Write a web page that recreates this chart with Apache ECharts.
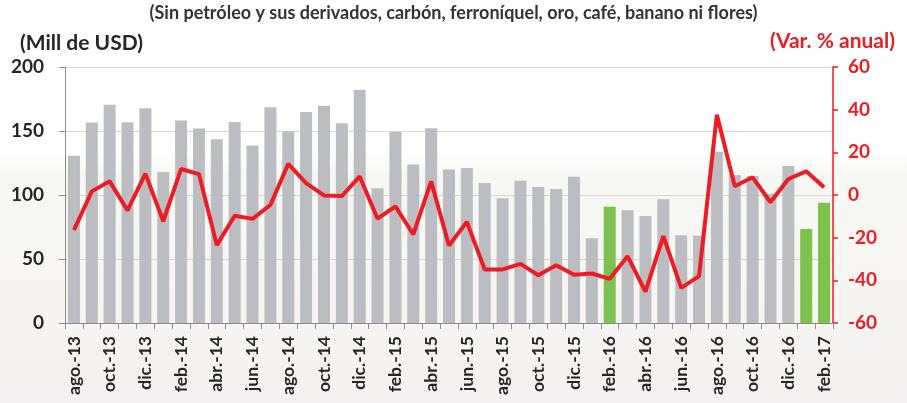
<!DOCTYPE html>
<html>
<head>
<meta charset="utf-8">
<script src="https://cdn.jsdelivr.net/npm/echarts@6/dist/echarts.min.js"></script>
<style>
  html, body { margin: 0; padding: 0; }
  body {
    width: 907px; height: 403px; overflow: hidden;
    background: linear-gradient(to bottom, #ffffff 0px, #ffffff 150px, #f7f7f4 175px, #f6f5f2 320px, #f5f0f1 403px);
  }
  #chart { width: 907px; height: 403px; }
</style>
</head>
<body>
<div id="chart"></div>
<script>
const months = [
  "ago.-13", "sep.-13", "oct.-13", "nov.-13", "dic.-13",
  "ene.-14", "feb.-14", "mar.-14", "abr.-14", "may.-14", "jun.-14", "jul.-14", "ago.-14", "sep.-14", "oct.-14", "nov.-14", "dic.-14",
  "ene.-15", "feb.-15", "mar.-15", "abr.-15", "may.-15", "jun.-15", "jul.-15", "ago.-15", "sep.-15", "oct.-15", "nov.-15", "dic.-15",
  "ene.-16", "feb.-16", "mar.-16", "abr.-16", "may.-16", "jun.-16", "jul.-16", "ago.-16", "sep.-16", "oct.-16", "nov.-16", "dic.-16",
  "ene.-17", "feb.-17"
];

// exportaciones, millones de USD
const exportValues = [
  130.6, 156.6, 170.6, 156.9, 167.8,
  117.9, 158.2, 151.9, 143.6, 157.1, 138.7, 168.6, 149.9, 164.9, 169.8, 156.1, 182.3,
  105.2, 149.4, 123.9, 152.2, 120.0, 121.0, 109.4, 97.4, 111.2, 106.2, 104.7, 114.3,
  66.2, 90.9, 88.1, 83.6, 96.6, 68.6, 68.1, 133.8, 115.6, 114.8, 100.8, 122.6,
  73.5, 94.0
];

// variación % anual
const annualChange = [
  -16.5, 1.7, 6.4, -7.2, 10.0,
  -12.3, 12.2, 9.8, -23.5, -9.7, -11.2, -4.7, 14.6, 5.6, -0.2, -0.5, 8.7,
  -11.1, -5.3, -18.5, 6.4, -23.7, -12.6, -34.9, -34.9, -32.3, -37.6, -32.9, -37.4,
  -36.8, -39.3, -28.7, -45.3, -19.3, -43.5, -38.0, 37.6, 4.1, 8.3, -3.4, 7.5,
  11.1, 3.6
];

// meses resaltados en verde
const highlighted = ["feb.-16", "ene.-17", "feb.-17"];

const leftTicks = [0, 50, 100, 150, 200];
const rightTicks = [-60, -40, -20, 0, 20, 40, 60];

const grey = "#bcbdc0";
const green = "#7dc14f";
const red = "#ed1c24";
const dark = "#262626";
const font = "Lato";

const chart = echarts.init(document.getElementById("chart"));

chart.setOption({
  animation: false,
  textStyle: { fontFamily: font },
  graphic: [
    {
      type: "text", left: "center", top: 4,
      style: {
        text: "(Sin petróleo y sus derivados, carbón, ferroníquel, oro, café, banano ni flores)",
        font: "bold 18px " + font, fill: "#333333"
      }
    },
    {
      type: "text", left: 20, top: 33,
      style: { text: "(Mill de USD)", font: "bold 21px " + font, fill: dark }
    },
    {
      type: "text", right: 12, top: 31,
      style: { text: "(Var. % anual)", font: "bold 21px " + font, fill: red }
    }
  ],
  grid: { left: 65, right: 74, top: 67, bottom: 80 },
  xAxis: {
    type: "category",
    data: months,
    axisLine: { lineStyle: { color: "#8c8c8c", width: 1 } },
    axisTick: { show: true, length: 6, interval: 0, lineStyle: { color: "#8c8c8c" } },
    axisLabel: {
      interval: 1, rotate: 90, margin: 13,
      color: dark, fontWeight: "bold", fontSize: 17.5, fontFamily: font
    }
  },
  yAxis: [
    {
      type: "value", min: leftTicks[0], max: leftTicks[leftTicks.length - 1], interval: 50,
      axisLine: { show: true, lineStyle: { color: "#8c8c8c" } },
      axisTick: { show: true, length: 6, lineStyle: { color: "#8c8c8c" } },
      axisLabel: { color: dark, fontWeight: "bold", fontSize: 19, fontFamily: font, margin: 21 },
      splitLine: { lineStyle: { color: "#d6d6d6", width: 1 } }
    },
    {
      type: "value", min: rightTicks[0], max: rightTicks[rightTicks.length - 1], interval: 20,
      position: "right",
      axisLine: { show: true, lineStyle: { color: red, width: 1.5 } },
      axisTick: { show: true, length: 5, lineStyle: { color: red, width: 1.5 } },
      axisLabel: { color: red, fontWeight: "bold", fontSize: 19, fontFamily: font, margin: 15 },
      splitLine: { show: false }
    }
  ],
  series: [
    {
      type: "bar",
      yAxisIndex: 0,
      barWidth: 12,
      data: exportValues.map((v, i) => ({
        value: v,
        itemStyle: { color: highlighted.includes(months[i]) ? green : grey }
      }))
    },
    {
      type: "line",
      yAxisIndex: 1,
      data: annualChange,
      symbol: "none",
      lineStyle: { color: red, width: 4 },
      z: 5
    }
  ]
});
</script>
</body>
</html>
